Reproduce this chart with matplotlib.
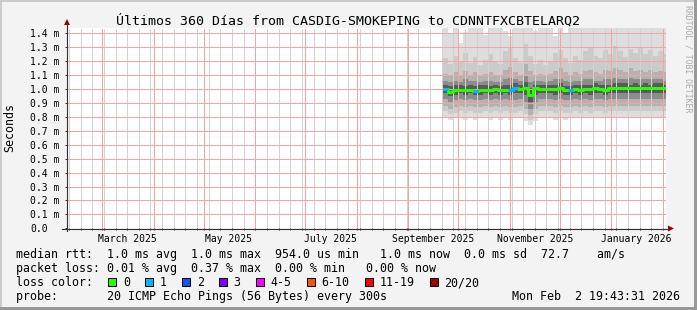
import numpy as np
import pandas as pd
import matplotlib
matplotlib.use('Agg')
import matplotlib.pyplot as plt
import matplotlib.dates as mdates
from matplotlib.patches import Rectangle, Polygon
from matplotlib.lines import Line2D
from matplotlib.transforms import blended_transform_factory

W, H = 697, 310
MONO = 'DejaVu Sans Mono'

title = 'Últimos 360 Días from CASDIG-SMOKEPING to CDNNTFXCBTELARQ2'
t_start = pd.Timestamp('2025-02-07 19:43:31')
t_end = pd.Timestamp('2026-02-02 19:43:31')

# 3-day bins, Sep 22 2025 .. Feb 2 2026 (values in ms)
dates = pd.date_range('2025-09-22', periods=45, freq='3D')

median = [1.000, 0.982, 0.993, 0.995, 0.992, 0.996, 0.988, 0.994, 0.996, 0.992,
          0.997, 0.994, 0.996, 0.993, 1.006, 0.998, 1.006, 0.955, 1.004, 1.002,
          1.000, 1.002, 0.998, 1.006, 0.995, 0.993, 0.998, 0.996, 1.002, 0.998,
          1.006, 1.000, 0.996, 1.004, 1.006, 1.008, 1.008, 1.004, 1.006, 1.004,
          1.006, 1.004, 1.008, 1.005, 1.004]
loss = [1, 0, 0, 0, 0, 0, 1, 0, 0, 0,
        0, 0, 0, 1, 1, 0, 0, 0, 0, 0,
        0, 0, 0, 0, 0, 1, 0, 0, 0, 0,
        0, 0, 0, 0, 0, 0, 0, 0, 0, 0,
        0, 0, 0, 0, 0]

# smoke envelopes, outer to inner
smoke_max = [1.44, 1.40, 1.44, 1.33, 1.41, 1.44, 1.44, 1.44, 1.39, 1.44,
             1.44, 1.44, 1.42, 1.38, 1.44, 1.44, 1.44, 1.44, 1.42, 1.44,
             1.44, 1.44, 1.38, 1.44, 1.40, 1.44, 1.44, 1.44, 1.44, 1.44,
             1.44, 1.44, 1.44, 1.44, 1.44, 1.44, 1.44, 1.44, 1.44, 1.44,
             1.44, 1.44, 1.44, 1.44, 1.44]
smoke_min = [0.79, 0.78, 0.79, 0.80, 0.78, 0.79, 0.78, 0.79, 0.79, 0.78,
             0.79, 0.78, 0.80, 0.78, 0.79, 0.79, 0.77, 0.74, 0.77, 0.79,
             0.79, 0.80, 0.78, 0.79, 0.78, 0.79, 0.80, 0.79, 0.80, 0.79,
             0.80, 0.79, 0.80, 0.79, 0.80, 0.80, 0.79, 0.80, 0.80, 0.79,
             0.80, 0.80, 0.79, 0.80, 0.80]
up2 = [1.22, 1.18, 1.24, 1.20, 1.26, 1.19, 1.23, 1.17, 1.21, 1.25,
       1.20, 1.18, 1.27, 1.30, 1.22, 1.19, 1.32, 1.24, 1.18, 1.21,
       1.17, 1.20, 1.26, 1.28, 1.22, 1.19, 1.24, 1.21, 1.27, 1.30,
       1.24, 1.22, 1.28, 1.25, 1.31, 1.27, 1.23, 1.29, 1.26, 1.30,
       1.25, 1.28, 1.24, 1.27, 1.25]
lo2 = [0.84, 0.82, 0.83, 0.84, 0.83, 0.84, 0.83, 0.83, 0.84, 0.83,
       0.84, 0.83, 0.84, 0.83, 0.83, 0.84, 0.82, 0.78, 0.82, 0.84,
       0.84, 0.84, 0.83, 0.84, 0.83, 0.83, 0.84, 0.83, 0.84, 0.83,
       0.84, 0.84, 0.83, 0.84, 0.84, 0.84, 0.84, 0.84, 0.84, 0.84,
       0.84, 0.84, 0.84, 0.84, 0.84]
up3 = [1.11, 1.10, 1.12, 1.09, 1.13, 1.10, 1.12, 1.09, 1.11, 1.12,
       1.10, 1.09, 1.14, 1.16, 1.12, 1.10, 1.18, 1.13, 1.09, 1.11,
       1.10, 1.11, 1.13, 1.15, 1.12, 1.10, 1.12, 1.11, 1.13, 1.14,
       1.12, 1.11, 1.14, 1.13, 1.15, 1.14, 1.12, 1.15, 1.13, 1.14,
       1.12, 1.14, 1.12, 1.13, 1.12]
lo3 = [0.88, 0.86, 0.87, 0.88, 0.87, 0.88, 0.87, 0.87, 0.88, 0.87,
       0.88, 0.87, 0.88, 0.87, 0.87, 0.88, 0.86, 0.81, 0.86, 0.88,
       0.88, 0.88, 0.87, 0.88, 0.87, 0.87, 0.88, 0.87, 0.88, 0.87,
       0.88, 0.88, 0.87, 0.88, 0.88, 0.88, 0.88, 0.88, 0.88, 0.88,
       0.88, 0.88, 0.88, 0.88, 0.88]
up4 = [1.06, 1.05, 1.06, 1.05, 1.07, 1.06, 1.06, 1.05, 1.06, 1.06,
       1.05, 1.05, 1.07, 1.08, 1.07, 1.06, 1.10, 1.05, 1.06, 1.06,
       1.05, 1.06, 1.07, 1.07, 1.06, 1.05, 1.06, 1.06, 1.07, 1.07,
       1.06, 1.06, 1.07, 1.07, 1.08, 1.07, 1.07, 1.08, 1.07, 1.07,
       1.07, 1.07, 1.07, 1.07, 1.06]
lo4 = [0.93, 0.91, 0.92, 0.93, 0.92, 0.93, 0.92, 0.92, 0.93, 0.92,
       0.93, 0.92, 0.93, 0.92, 0.92, 0.93, 0.91, 0.86, 0.91, 0.93,
       0.93, 0.93, 0.92, 0.93, 0.92, 0.92, 0.93, 0.92, 0.93, 0.92,
       0.93, 0.93, 0.92, 0.93, 0.93, 0.93, 0.93, 0.93, 0.93, 0.93,
       0.93, 0.93, 0.93, 0.93, 0.93]
up5 = [1.03, 1.02, 1.03, 1.03, 1.02, 1.03, 1.02, 1.03, 1.03, 1.02,
       1.03, 1.02, 1.03, 1.03, 1.04, 1.03, 1.05, 1.01, 1.03, 1.03,
       1.03, 1.03, 1.03, 1.04, 1.02, 1.02, 1.03, 1.03, 1.03, 1.03,
       1.04, 1.03, 1.03, 1.03, 1.04, 1.04, 1.04, 1.03, 1.04, 1.03,
       1.04, 1.03, 1.04, 1.04, 1.03]
lo5 = [0.97, 0.95, 0.96, 0.97, 0.96, 0.97, 0.96, 0.96, 0.97, 0.96,
       0.97, 0.96, 0.97, 0.96, 0.97, 0.97, 0.96, 0.91, 0.96, 0.97,
       0.97, 0.97, 0.96, 0.97, 0.96, 0.96, 0.97, 0.96, 0.97, 0.96,
       0.97, 0.97, 0.96, 0.97, 0.97, 0.97, 0.97, 0.97, 0.97, 0.97,
       0.97, 0.97, 0.97, 0.97, 0.97]

smoke_layers = [(smoke_min, smoke_max), (lo2, up2), (lo3, up3), (lo4, up4), (lo5, up5)]
smoke_colors = ['#dddddd', '#cbcbcb', '#b2b2b2', '#8c8c8c', '#5a5a5a']

loss_labels = ['0', '1', '2', '3', '4-5', '6-10', '11-19', '20/20']
loss_colors = ['#26ff00', '#00b8ff', '#0059ff', '#7e00ff', '#ff00ff', '#ff5500', '#ff0000', '#a10000']

legend_lines = [
    'median rtt:  1.0 ms avg  1.0 ms max  954.0 us min   1.0 ms now  0.0 ms sd  72.7    am/s',
    'packet loss: 0.01 % avg  0.37 % max  0.00 % min   0.00 % now',
    'loss color:',
    'probe:       20 ICMP Echo Pings (56 Bytes) every 300s',
]
stamp = 'Mon Feb  2 19:43:31 2026'


def fx(x):
    return x / W


def fy(y):
    return 1 - y / H


fig = plt.figure(figsize=(W / 100, H / 100), dpi=100, facecolor='#f3f3f3')
ax = fig.add_axes([fx(67), fy(228.3), (666 - 67) / W, (228.3 - 28) / H])
ax.set_facecolor('white')
for s in ax.spines.values():
    s.set_visible(False)

# smoke
x_ext = dates.append(pd.DatetimeIndex([t_end]))
ext = lambda a: np.append(np.asarray(a, dtype=float), a[-1])
for (lo, hi), c in zip(smoke_layers, smoke_colors):
    ax.fill_between(x_ext, ext(lo), ext(hi), step='post', color=c, lw=0, zorder=1)

# median coloured by loss
med = np.asarray(median, dtype=float)
lss = np.asarray(loss)
ax.step(x_ext, ext(med), where='post', color=loss_colors[0], lw=2.2, zorder=3, solid_capstyle='butt')
for k in sorted(set(loss) - {0}):
    y = np.where(lss == k, med, np.nan)
    ax.step(x_ext, ext(y), where='post', color=loss_colors[k], lw=2.2, zorder=4, solid_capstyle='butt')

ax.set_xlim(t_start, t_end)
ax.set_ylim(0, 1.438)

# grid (dotted, drawn over the smoke)
ax.xaxis.set_major_locator(mdates.MonthLocator())
ax.xaxis.set_minor_locator(mdates.WeekdayLocator(byweekday=mdates.SU))
yticks = np.round(np.arange(0, 1.45, 0.1), 1)
ax.set_yticks(yticks)
ax.set_yticklabels(['0.0' if v == 0 else f'{v:.1f} m' for v in yticks], family=MONO, fontsize=7.06)
ax.set_axisbelow(False)
ax.grid(which='minor', axis='x', color='#d2d2d2', ls=(0, (1, 1)), lw=0.72, antialiased=False)
ax.grid(which='major', axis='both', color='#f5a3a3', ls=(0, (1, 1)), lw=0.72, antialiased=False)
ax.tick_params(axis='x', which='both', direction='out', length=1.5, width=0.72,
               color='#333333', labelbottom=False)
ax.tick_params(axis='y', which='major', direction='out', length=1.5, width=0.72,
               color='#333333', pad=24.8)
for t in ax.get_yticklabels():
    t.set_ha('left')

# x labels at mid-month, every second month
lab_months = pd.date_range('2025-03-01', periods=6, freq='2MS')
tr = blended_transform_factory(ax.transData, fig.transFigure)
for m in lab_months:
    ax.text(m + pd.Timedelta(days=15), fy(241.5), m.strftime('%B %Y'), transform=tr,
            ha='center', va='baseline', family=MONO, fontsize=7.06)

# axis lines with arrows
axis_c = '#303030'
arrow_c = '#a00000'
fig.add_artist(Line2D([fx(62), fx(669)], [fy(228.5), fy(228.5)], color=axis_c, lw=0.8))
fig.add_artist(Line2D([fx(67), fx(67)], [fy(231), fy(23)], color=axis_c, lw=0.8))
fig.add_artist(Polygon([(fx(668), fy(225.5)), (fx(674), fy(228.5)), (fx(668), fy(231.5))],
                       closed=True, transform=fig.transFigure, color=arrow_c, lw=0))
fig.add_artist(Polygon([(fx(64), fy(25)), (fx(67), fy(19)), (fx(70), fy(25))],
                       closed=True, transform=fig.transFigure, color=arrow_c, lw=0))

# title, axis label, watermark
fig.text(0.5, fy(25), title, ha='center', va='baseline', family=MONO, fontsize=9.5)
fig.text(fx(10), fy(128), 'Seconds', rotation=90, ha='center', va='center', family=MONO, fontsize=8.35)
fig.text(fx(688), fy(59), 'RRDTOOL / TOBI OETIKER', rotation=270, ha='center', va='center',
         family=MONO, fontsize=5.9, color='#aaaaaa')

# legend
CW = 6.98
base = [258, 272, 286, 300]
for s, b in zip(legend_lines, base):
    fig.text(fx(16), fy(b), s, ha='left', va='baseline', family=MONO, fontsize=8.35)
fig.text(fx(680), fy(300), stamp, ha='right', va='baseline', family=MONO, fontsize=8.35)
col = 13.2
for lab, c in zip(loss_labels, loss_colors):
    bx = 16 + col * CW
    fig.add_artist(Rectangle((fx(bx), fy(285.5)), 8 / W, 8 / H, transform=fig.transFigure,
                             fc=c, ec='black', lw=0.75))
    fig.text(fx(bx + 2.1 * CW), fy(286), lab, ha='left', va='baseline', family=MONO, fontsize=8.35)
    col += 2.1 + len(lab) + 2.2

# 3d frame
fig.add_artist(Rectangle((0, fy(2)), 1, 2 / H, transform=fig.transFigure, fc='#cbcbcb', lw=0))
fig.add_artist(Rectangle((0, 0), 2 / W, 1, transform=fig.transFigure, fc='#cbcbcb', lw=0))
fig.add_artist(Rectangle((fx(694), 0), 3 / W, 1, transform=fig.transFigure, fc='#999999', lw=0))
fig.add_artist(Rectangle((0, 0), 1, 3 / H, transform=fig.transFigure, fc='#999999', lw=0))

fig.savefig('out.png', dpi=100, facecolor=fig.get_facecolor())
